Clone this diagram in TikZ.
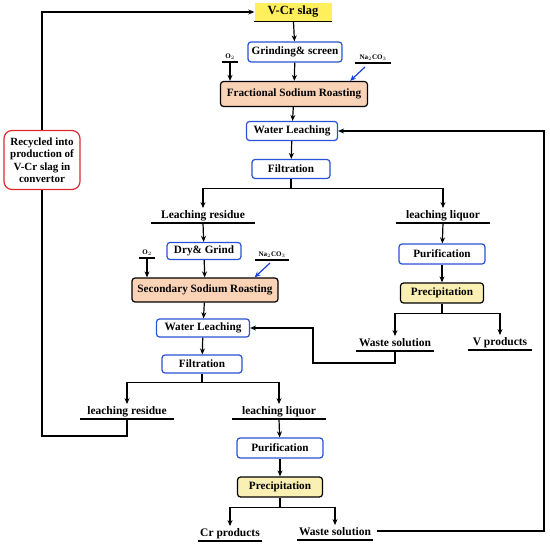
\documentclass[tikz,border=0pt]{standalone}
\usepackage{fontspec}
\setmainfont{Liberation Serif}
\definecolor{boxblue}{HTML}{2A52D6}
\definecolor{boxred}{HTML}{DE2A30}
\definecolor{roastfill}{HTML}{FAD3B7}
\definecolor{slagfill}{HTML}{FFEF5C}
\definecolor{precfill}{HTML}{FBF0B4}
\definecolor{sodablue}{HTML}{1A3FE0}
\usetikzlibrary{arrows.meta,positioning,calc}

\begin{document}
\begin{tikzpicture}[x=1pt,y=-1pt,
  line/.style={line width=1.2pt,black},
  arr/.style={line,-{Stealth[length=6pt,width=5pt]}},
  bluearr/.style={line width=1.2pt,sodablue,-{Stealth[length=6pt,width=5pt]}},
  box/.style={draw=boxblue,line width=1.2pt,rounded corners=3pt,fill=white,
    font=\fontsize{11.2}{13}\selectfont\bfseries,inner sep=0pt},
  roastbox/.style={box,draw=black,fill=roastfill},
  precbox/.style={box,draw=black,fill=precfill},
  ul/.style={font=\fontsize{11.5}{13}\selectfont\bfseries,inner sep=2pt,
    text height=8pt,text depth=2.5pt,anchor=south},
  gas/.style={font=\fontsize{7}{8}\selectfont\bfseries,inner sep=2pt,anchor=south}]
  \useasboundingbox (0,0) rectangle (550,546);
  % first roasting stage
  \node[fill=slagfill,minimum width=77pt,minimum height=19pt,inner sep=0pt,
    font=\fontsize{12.5}{14}\selectfont\bfseries] (slag) at (293,12) {V-Cr slag};
  \node[box,minimum width=94pt,minimum height=20pt] (grind) at (295,52) {Grinding\& screen};
  \node[roastbox,minimum width=147pt,minimum height=25pt] (fsr) at (294,94) {Fractional Sodium Roasting};
  \node[gas,minimum width=15pt] (oxa) at (230,62) {O$_2$};
  \node[gas,minimum width=35pt] (sodaa) at (373,63) {Na$_2$CO$_3$};
  \node[box,minimum width=91pt,minimum height=19pt] (wla) at (292,131) {Water Leaching};
  \node[box,minimum width=78pt,minimum height=19pt] (filta) at (291,169) {Filtration};
  \node[ul,minimum width=103pt] (resa) at (203,223) {Leaching residue};
  \node[ul,minimum width=94pt] (liqa) at (443,223) {leaching liquor};
  % vanadium branch
  \node[box,minimum width=86pt,minimum height=20pt] (pura) at (442,254) {Purification};
  \node[precbox,minimum width=83pt,minimum height=20pt] (preca) at (442,293) {Precipitation};
  \node[ul,minimum width=77pt] (wastea) at (395,351) {Waste solution};
  \node[ul,minimum width=64pt] (vprod) at (500,350) {V products};
  % second roasting stage
  \node[box,minimum width=74pt,minimum height=17pt] (dry) at (204,251) {Dry\& Grind};
  \node[gas,minimum width=15pt] (oxb) at (147,258) {O$_2$};
  \node[gas,minimum width=34pt] (sodab) at (272,260) {Na$_2$CO$_3$};
  \node[roastbox,minimum width=146pt,minimum height=24pt] (ssr) at (205,290) {Secondary Sodium Roasting};
  \node[box,minimum width=93pt,minimum height=18pt] (wlb) at (203,328) {Water Leaching};
  \node[box,minimum width=80pt,minimum height=18pt] (filtb) at (202,364) {Filtration};
  \node[ul,minimum width=94pt] (resb) at (127,419) {leaching residue};
  \node[ul,minimum width=94pt] (liqb) at (279,419) {leaching liquor};
  % chromium branch
  \node[box,minimum width=86pt,minimum height=20pt] (purb) at (280,448) {Purification};
  \node[precbox,minimum width=85pt,minimum height=20pt] (precb) at (280,487) {Precipitation};
  \node[ul,minimum width=63pt] (crprod) at (230,541) {Cr products};
  \node[ul,minimum width=76pt] (wasteb) at (335,540) {Waste solution};
  % underlines
  \foreach \n in {slag,oxa,sodaa,resa,liqa,wastea,vprod,oxb,sodab,resb,liqb,crprod,wasteb}
    \draw[line] (\n.south west) -- (\n.south east);
  % main flow
  \draw[arr] (slag) -- (grind);
  \draw[arr] (grind) -- (fsr);
  \draw[arr] (oxa.south) -- (oxa.south |- fsr.north);
  \draw[bluearr] ([xshift=-8pt,yshift=-4pt]sodaa.south) -- ([xshift=-18pt]fsr.north east);
  \draw[arr] (fsr) -- (wla);
  \draw[arr] (wla) -- (filta);
  \draw[line] (filta.south) -- ++(0,9) coordinate (splita);
  \draw[arr] (splita) -| (resa.north);
  \draw[arr] (splita) -| (liqa.north);
  \draw[arr] (liqa.south) -- (pura);
  \draw[arr] (pura) -- (preca);
  \draw[line] (preca.south) -- ++(0,10) coordinate (splitv);
  \draw[arr] (splitv) -| (wastea.north);
  \draw[arr] (splitv) -| (vprod.north);
  \draw[arr] (resa.south) -- (dry);
  \draw[arr] (dry) -- (ssr);
  \draw[arr] (oxb.south) -- (oxb.south |- ssr.north);
  \draw[bluearr] ([xshift=-2pt,yshift=-3pt]sodab.south) -- ([xshift=-24pt]ssr.north east);
  \draw[arr] (ssr) -- (wlb);
  \draw[arr] (wlb) -- (filtb);
  \draw[line] (filtb.south) -- ++(0,9) coordinate (splitb);
  \draw[arr] (splitb) -| (resb.north);
  \draw[arr] (splitb) -| (liqb.north);
  \draw[arr] (liqb.south) -- (purb);
  \draw[arr] (purb) -- (precb);
  \draw[line] (precb.south) -- ++(0,10) coordinate (splitc);
  \draw[arr] (splitc) -| (crprod.north);
  \draw[arr] (splitc) -| (wasteb.north);
  % recycle loops
  \coordinate (retv) at (313,363);
  \draw[arr] (wastea.south) |- (retv) |- (wlb.east);
  \coordinate (retc) at (544,531);
  \draw[arr] ([xshift=4pt]wasteb.east |- 0,531) -- (retc) |- (wla.east);
  \node[draw=boxred,line width=1.2pt,rounded corners=8pt,fill=white,align=center,
    minimum width=76pt,minimum height=59pt,inner sep=1pt,
    font=\fontsize{11}{12.5}\selectfont\bfseries] (recyc) at (42,160)
    {Recycled into\\production of\\V-Cr slag in\\convertor};
  \coordinate (retr) at (42,436);
  \draw[line] (resb.south) |- (retr) -- (recyc.south);
  \draw[arr] (recyc.north) |- (slag.west);
\end{tikzpicture}
\end{document}
